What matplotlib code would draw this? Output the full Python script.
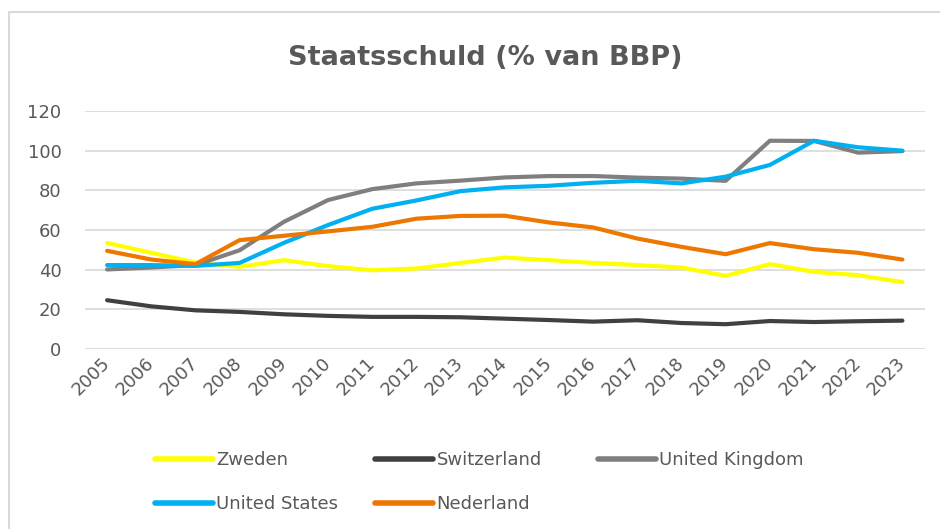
import matplotlib
matplotlib.use('Agg')
import matplotlib.pyplot as plt
from matplotlib.lines import Line2D

plt.rcParams['font.family'] = ['DejaVu Sans']

years = list(range(2005, 2024))

zweden = [53.5, 48.5, 43.6, 41.4, 44.8, 41.8, 39.7, 40.6, 43.4, 46.1,
          44.8, 43.4, 42.3, 41.1, 36.9, 42.8, 38.9, 37.2, 33.7]
switzerland = [24.6, 21.5, 19.5, 18.7, 17.5, 16.7, 16.2, 16.2, 16.0, 15.3,
               14.6, 13.8, 14.5, 13.1, 12.5, 14.1, 13.6, 14.0, 14.3]
united_kingdom = [40.1, 41.1, 42.3, 49.8, 64.1, 75.1, 80.6, 83.5, 84.9, 86.5,
                  87.2, 87.2, 86.4, 85.9, 84.8, 105.0, 104.9, 99.0, 99.8]
united_states = [42.3, 42.3, 41.9, 43.4, 53.5, 62.5, 70.7, 74.9, 79.6, 81.5,
                 82.3, 83.8, 84.8, 83.5, 86.9, 92.8, 105.0, 101.7, 100.0]
nederland = [49.5, 45.1, 42.8, 54.9, 57.1, 59.3, 61.6, 65.7, 67.1, 67.2,
             63.8, 61.3, 55.7, 51.5, 47.8, 53.4, 50.3, 48.5, 45.1]

series = [
    ('Zweden', zweden, '#FFFF00'),
    ('Switzerland', switzerland, '#404040'),
    ('United Kingdom', united_kingdom, '#7F7F7F'),
    ('United States', united_states, '#00B0F0'),
    ('Nederland', nederland, '#EE7700'),
]

TXT = '#595959'
W, H = 940, 529

fig = plt.figure(figsize=(W / 100, H / 100), dpi=100)
ax = fig.add_axes([85 / W, 1 - 349 / H, (924.5 - 85) / W, (349 - 111) / H])

lines = {}
for name, vals, col in series:
    ln, = ax.plot(years, vals, color=col, lw=3.0, label=name,
                  solid_capstyle='round', solid_joinstyle='round')
    lines[name] = ln

ax.set_xlim(2004.5, 2023.5)
ax.set_ylim(0, 120)
ax.set_yticks(range(0, 121, 20))
ax.set_xticks(years)
ax.set_xticklabels([str(y) for y in years], rotation=45, ha='right',
                   va='center', rotation_mode='anchor')
ax.tick_params(axis='both', length=0, labelsize=13, colors=TXT)
ax.tick_params(axis='y', pad=17)
ax.tick_params(axis='x', pad=8)
ax.grid(True, axis='y', color='#D9D9D9', lw=1.2)
ax.set_axisbelow(True)
for s in ax.spines.values():
    s.set_visible(False)

fig.text(485 / W, 1 - 58 / H, 'Staatsschuld (% van BBP)', ha='center', va='center',
         fontsize=19.5, fontweight='bold', color=TXT)

# chart border (only top and left visible)
fig.add_artist(Line2D([9 / W, 9 / W, 1], [0, 1 - 12 / H, 1 - 12 / H],
                      color='#D9D9D9', lw=1.5))

# legend, three columns placed like Excel's grid
cols = [(155, ['Zweden', 'United States']),
        (375, ['Switzerland', 'Nederland']),
        (598, ['United Kingdom'])]
for x, names in cols:
    leg = fig.legend([lines[n] for n in names], names, loc='upper left',
                     bbox_to_anchor=(x / W, 1 - 451 / H), frameon=False,
                     fontsize=13, handlelength=3.2, handletextpad=0.2,
                     borderpad=0, borderaxespad=0, labelspacing=1.45,
                     labelcolor=TXT)
    for h in leg.legend_handles:
        h.set_linewidth(4)

fig.savefig('out.png', dpi=100)
